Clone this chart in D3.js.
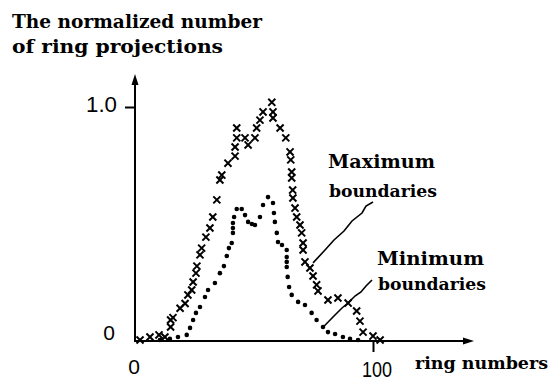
<!DOCTYPE html>
<html>
<head>
<meta charset="utf-8">
<script src="https://cdn.jsdelivr.net/npm/d3@7"></script>
<style>
  html, body { margin: 0; padding: 0; background: #fff; }
  svg { display: block; }
</style>
</head>
<body>
<svg id="chart" width="550" height="381"></svg>
<script>
// ---- Data (ring number, normalized count) ----
const maxRing = [1.7,5.9,9.7,12.2,14.6,14.6,15.6,18.6,20.7,21.9,23.5,24.1,25.3,25.7,27.0,27.7,29.5,31.2,32.4,34.1,35.4,36.2,38.8,41.8,41.8,42.5,42.5,46.0,47.3,50.2,50.9,52.3,53.6,57.3,57.8,57.8,60.8,63.2,65.0,65.3,65.7,65.7,66.1,66.2,67.1,67.8,69.2,69.9,70.5,70.5,71.3,73.4,74.7,76.2,76.8,81.0,85.2,89.5,93.1,94.5,95.8,100.0,103.0];
const maxValue = [0.004,0.017,0.026,0.017,0.06,0.09,0.10,0.14,0.16,0.197,0.218,0.252,0.29,0.32,0.368,0.397,0.444,0.483,0.53,0.603,0.688,0.709,0.76,0.79,0.829,0.868,0.91,0.868,0.838,0.868,0.91,0.944,0.979,1.02,0.979,0.953,0.91,0.868,0.808,0.774,0.722,0.697,0.645,0.611,0.568,0.53,0.496,0.462,0.419,0.389,0.338,0.312,0.278,0.24,0.214,0.175,0.184,0.162,0.128,0.085,0.038,0.021,0.004];

const minRing = [10.1,14.3,17.7,21.4,22.8,24.1,25.3,27.0,29.1,30.4,33.3,35.4,37.1,38.3,39.2,40.4,40.9,40.9,40.9,41.4,42.5,44.6,46.0,47.3,48.9,50.2,52.3,53.6,55.7,57.8,58.2,58.6,59.4,59.9,61.6,63.6,63.6,63.6,63.6,64.0,64.6,65.7,68.4,71.3,74.1,76.2,78.9,81.0,84.0,87.3,90.3,93.7];
const minValue = [0.004,0.009,0.017,0.026,0.056,0.09,0.12,0.145,0.188,0.218,0.248,0.29,0.32,0.363,0.397,0.419,0.462,0.483,0.504,0.53,0.564,0.564,0.538,0.509,0.5,0.496,0.53,0.581,0.615,0.59,0.547,0.509,0.462,0.423,0.41,0.389,0.359,0.338,0.316,0.274,0.231,0.197,0.167,0.154,0.12,0.09,0.06,0.038,0.03,0.017,0.009,0.004];

const titleLines = ["The normalized number", "of ring projections"];
const xTickLabels = ["0", "100"];
const yTickLabels = ["0", "1.0"];
const xAxisTitle = "ring numbers";
const maxLabel = ["Maximum", "boundaries"];
const minLabel = ["Minimum", "boundaries"];

// ---- Drawing ----
const svg = d3.select("#chart");
const x = d3.scaleLinear().domain([0, 100]).range([136, 373]);
const y = d3.scaleLinear().domain([0, 1]).range([341, 107]);

const serif = "'DejaVu Serif', 'Liberation Serif', serif";
const sans = "'Liberation Sans', Arial, sans-serif";

// title
const tl = [{t: titleLines[0], base: 28, len: 250}, {t: titleLines[1], base: 53, len: 211}];
svg.selectAll("text.title").data(tl).join("text")
  .attr("class", "title")
  .attr("x", 12).attr("y", d => d.base)
  .attr("font-family", serif).attr("font-weight", "bold").attr("font-size", 19)
  .attr("textLength", d => d.len).attr("lengthAdjust", "spacingAndGlyphs")
  .text(d => d.t);

// axes
const yAxisG = svg.append("g").attr("transform", `translate(${x(0) - 1},0)`)
  .call(d3.axisLeft(y).tickValues([1]).tickSize(10).tickFormat(""));
const xAxisG = svg.append("g").attr("transform", `translate(0,${y(0)})`)
  .call(d3.axisBottom(x).tickValues([100]).tickSize(11).tickFormat(""));
[yAxisG, xAxisG].forEach(g => {
  g.select(".domain").remove();
  g.selectAll(".tick line").attr("stroke", "#000").attr("stroke-width", 2);
});

// axis lines with arrows
svg.append("line").attr("x1", x(0) - 1).attr("x2", x(0) - 1).attr("y1", y(0) + 1).attr("y2", 80)
  .attr("stroke", "#000").attr("stroke-width", 2);
svg.append("path").attr("d", `M${x(0)-1},74 L${x(0)-4.5},85 L${x(0)+2.5},85 Z`).attr("fill", "#000");
svg.append("line").attr("x1", x(0) - 2).attr("x2", 467).attr("y1", y(0)).attr("y2", y(0))
  .attr("stroke", "#000").attr("stroke-width", 2);
svg.append("path").attr("d", `M474,${y(0)} L463,${y(0)-3.5} L463,${y(0)+3.5} Z`).attr("fill", "#000");

// tick labels
svg.append("text").attr("x", 109).attr("y", y(0) - 1).attr("text-anchor", "middle")
  .attr("font-family", sans).attr("font-size", 21).text(yTickLabels[0]);
svg.append("text").attr("x", 86).attr("y", y(1) + 5).attr("font-family", sans).attr("font-size", 22)
  .attr("textLength", 31).attr("lengthAdjust", "spacingAndGlyphs").text(yTickLabels[1]);
svg.append("text").attr("x", x(0) - 2).attr("y", 374).attr("text-anchor", "middle")
  .attr("font-family", sans).attr("font-size", 21).text(xTickLabels[0]);
svg.append("text").attr("x", 362).attr("y", 377).attr("font-family", sans).attr("font-size", 22)
  .attr("textLength", 30).attr("lengthAdjust", "spacingAndGlyphs").text(xTickLabels[1]);

// x axis title
svg.append("text").attr("x", 415).attr("y", 369).attr("font-family", serif).attr("font-weight", "bold")
  .attr("font-size", 17).attr("textLength", 133).attr("lengthAdjust", "spacingAndGlyphs").text(xAxisTitle);

// series: maximum (crosses)
const maxData = maxRing.map((r, i) => ({r, v: maxValue[i]}));
const minData = minRing.map((r, i) => ({r, v: minValue[i]}));
const cross = d3.symbol().type(d3.symbolX).size(34);
svg.append("g").selectAll("path").data(maxData).join("path")
  .attr("transform", d => `translate(${x(d.r)},${y(d.v)})`)
  .attr("d", cross).attr("fill", "none").attr("stroke", "#000").attr("stroke-width", 2);

// series: minimum (dots)
svg.append("g").selectAll("circle").data(minData).join("circle")
  .attr("cx", d => x(d.r)).attr("cy", d => y(d.v)).attr("r", 2.3).attr("fill", "#000");

// annotation labels
const annot = [
  {lines: maxLabel, x: 328, y0: 168, y1: 197},
  {lines: minLabel, x: 377, y0: 265, y1: 290}
];
annot.forEach(a => {
  svg.append("text").attr("x", a.x).attr("y", a.y0).attr("font-family", serif).attr("font-weight", "bold")
    .attr("font-size", 18).attr("textLength", 107).attr("lengthAdjust", "spacingAndGlyphs").text(a.lines[0]);
  svg.append("text").attr("x", a.x + 1).attr("y", a.y1).attr("font-family", serif).attr("font-weight", "bold")
    .attr("font-size", 17).attr("textLength", 108).attr("lengthAdjust", "spacingAndGlyphs").text(a.lines[1]);
});

// leader lines (in pixel space of the labels, pointing at data)
const leaderMax = [[373,202],[366,206],[362,213],[352,221],[344,231],[334,240],[325,250],[x(74.7),y(0.338)+1]];
const leaderMin = [[372,280],[366,286],[361,292],[355,296],[348,303],[342,308],[334,316],[x(79),y(0.06)]];
const line = d3.line().curve(d3.curveLinear);
[leaderMax, leaderMin].forEach(p => {
  svg.append("path").attr("d", line(p)).attr("fill", "none").attr("stroke", "#000").attr("stroke-width", 1.6);
});
</script>
</body>
</html>
